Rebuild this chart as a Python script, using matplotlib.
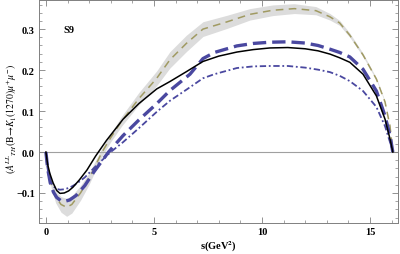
import numpy as np
import matplotlib
matplotlib.use("Agg")
import matplotlib.pyplot as plt
from matplotlib.ticker import MultipleLocator

plt.rcParams['font.family'] = ['Liberation Serif', 'DejaVu Serif']
plt.rcParams['mathtext.fontset'] = 'stix'

# black solid curve
s_bk = [0, 0.08, 0.18, 0.33, 0.5, 0.65, 0.85, 1.05, 1.25, 1.55, 1.9, 2.3, 2.8, 3.57, 4.3,
        5.13, 5.74, 6.5, 7.27, 8.0, 8.84, 9.6, 10.37, 11.2, 12.0, 12.6, 13.15, 13.6, 14.07,
        14.68, 15.3, 15.7, 15.93, 16.06]
y_bk = [0, -0.03, -0.052, -0.075, -0.094, -0.101, -0.1, -0.095, -0.086, -0.068, -0.044,
        -0.01, 0.028, 0.08, 0.118, 0.154, 0.172, 0.196, 0.221, 0.234, 0.244, 0.25, 0.254,
        0.255, 0.252, 0.247, 0.239, 0.23, 0.219, 0.19, 0.137, 0.08, 0.032, 0]

# thick blue dashed curve
s_bd = [0, 0.08, 0.2, 0.35, 0.5, 0.7, 0.9, 1.1, 1.4, 1.8, 2.2, 2.9, 3.57, 4.3, 5.13, 5.74,
        6.67, 7.27, 7.8, 8.84, 9.6, 10.37, 11.2, 12.0, 12.6, 13.15, 13.6, 14.07, 14.68, 15.3,
        15.7, 15.93, 16.06]
y_bd = [0, -0.04, -0.075, -0.098, -0.111, -0.119, -0.12, -0.117, -0.106, -0.082, -0.05, 0,
        0.04, 0.078, 0.118, 0.15, 0.19, 0.228, 0.243, 0.259, 0.265, 0.268, 0.269, 0.266,
        0.26, 0.251, 0.243, 0.232, 0.202, 0.149, 0.088, 0.04, 0]

# blue dash-dot curve
s_dd = [0, 0.05, 0.12, 0.22, 0.35, 0.5, 0.65, 0.85, 1.1, 1.4, 1.8, 2.3, 3.0, 3.57, 4.3, 5.13,
        5.74, 6.5, 7.27, 7.8, 8.84, 9.6, 10.37, 11.2, 12.0, 12.6, 13.15, 13.6, 14.07, 14.68,
        15.3, 15.7, 15.93, 16.06]
y_dd = [0, -0.03, -0.055, -0.072, -0.084, -0.09, -0.092, -0.091, -0.087, -0.078, -0.062,
        -0.035, 0, 0.024, 0.058, 0.098, 0.125, 0.152, 0.18, 0.19, 0.205, 0.209, 0.21, 0.21,
        0.206, 0.201, 0.195, 0.186, 0.173, 0.149, 0.11, 0.063, 0.024, 0]

# olive dashed curve with its uncertainty band
s_ol = [0, 0.1, 0.25, 0.45, 0.7, 0.96, 1.2, 1.6, 2.0, 2.6, 3.0, 3.5, 4.3, 5.13, 5.74, 6.5,
        7.27, 8.4, 9.44, 10.5, 11.5, 12.5, 13.15, 13.6, 14.07, 14.68, 15.3, 15.7, 15.93, 16.06]
y_ol = [0, -0.04, -0.08, -0.11, -0.128, -0.135, -0.128, -0.1, -0.065, 0, 0.035, 0.075, 0.13,
        0.18, 0.225, 0.265, 0.3, 0.318, 0.336, 0.346, 0.35, 0.345, 0.33, 0.315, 0.285, 0.237,
        0.178, 0.122, 0.063, 0]
w_ol = [0, 0.004, 0.009, 0.014, 0.019, 0.022, 0.021, 0.018, 0.014, 0.01, 0.01, 0.012, 0.015,
        0.018, 0.02, 0.02, 0.018, 0.016, 0.014, 0.013, 0.012, 0.01, 0.008, 0.006, 0.005,
        0.004, 0.003, 0.002, 0.001, 0]

blue = '#4a48a0'
olive = '#a09a62'

fig = plt.figure(figsize=(4.0, 2.55), dpi=100)
ax = fig.add_axes([0.0975, 0.122, 0.8975, 0.874])

ol = np.array(y_ol)
w = np.array(w_ol)
ax.fill_between(s_ol, ol - w, ol + w, color='#dcdcdc', lw=0, zorder=1)
ax.axhline(0, color='#a0a0a0', lw=0.8, zorder=1.5)

ax.plot(s_ol, y_ol, color=olive, lw=1.1, dashes=(5, 3.5), zorder=2)
ax.plot(s_dd, y_dd, color=blue, lw=1.3, dashes=(3.5, 1.5, 1, 1.5), zorder=3)
ax.plot(s_bd, y_bd, color=blue, lw=2.4, dashes=(4, 1.8), zorder=3)
ax.plot(s_bk, y_bk, color='black', lw=1.1, zorder=4)

ax.set_xlim(-0.32, 16.3)
ax.set_ylim(-0.173, 0.371)
ax.xaxis.set_major_locator(MultipleLocator(5))
ax.xaxis.set_minor_locator(MultipleLocator(1))
ax.yaxis.set_major_locator(MultipleLocator(0.1))
ax.yaxis.set_minor_locator(MultipleLocator(0.02))
ax.tick_params(which='both', direction='in', top=True, right=True, color='#808080',
               labelsize=7.5, pad=3)
ax.tick_params(which='major', length=4, width=0.6)
ax.tick_params(which='minor', length=2, width=0.5)
ax.set_yticks([-0.1, 0.0, 0.1, 0.2, 0.3])
ax.set_yticklabels(['\u22120.1', '0.0', '0.1', '0.2', '0.3'])
for lbl in ax.get_xticklabels() + ax.get_yticklabels():
    lbl.set_fontweight('bold')
for sp in ax.spines.values():
    sp.set_color('#808080')
    sp.set_linewidth(0.7)

ax.text(0.8, 0.3, 'S9', fontsize=7.5, fontweight='bold', va='center')
ax.set_xlabel(r's(GeV$^{\mathbf{2}}$)', fontsize=7.5, fontweight='bold', labelpad=2)
ax.set_ylabel(r'$(A^{LL}{}_{TH}(\mathrm{B}\!\rightarrow\! K_1(1270)\mu^{+}\mu^{-})$',
              fontsize=7)
ax.yaxis.set_label_coords(-0.056, 0.47)

fig.savefig('out.png', dpi=100)
